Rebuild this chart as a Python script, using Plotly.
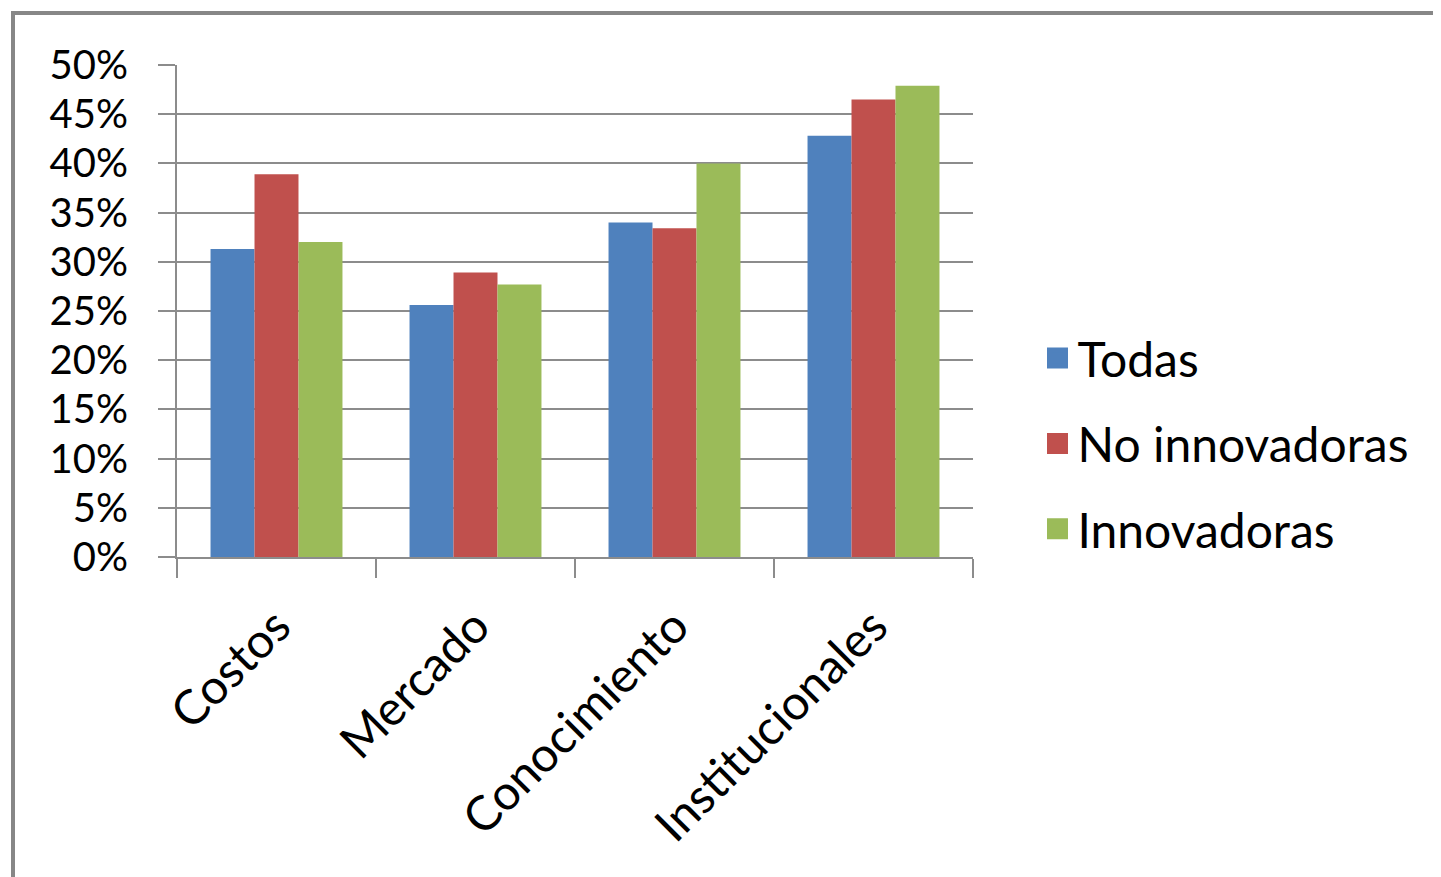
import plotly.graph_objects as go

categories = ["Costos", "Mercado", "Conocimiento", "Institucionales"]
series_names = ["Todas", "No innovadoras", "Innovadoras"]
todas = [0.313, 0.256, 0.340, 0.428]
no_innovadoras = [0.389, 0.289, 0.334, 0.465]
innovadoras = [0.320, 0.277, 0.400, 0.479]
colors = ["#4F81BD", "#C0504D", "#9BBB59"]
y_ticks = [0, 0.05, 0.10, 0.15, 0.20, 0.25, 0.30, 0.35, 0.40, 0.45, 0.50]

FONT = "Lato, 'Open Sans', sans-serif"

# page places the figure at an 8px offset
L, T = 169, 57
PW, PH = 796, 492

fig = go.Figure()
for name, vals, col in zip(series_names, [todas, no_innovadoras, innovadoras], colors):
    fig.add_trace(go.Bar(x=categories, y=vals, name=name, marker=dict(color=col, line=dict(width=0)),
                         showlegend=False))
# legend entries with larger squares
for i, (name, col) in enumerate(zip(series_names, colors)):
    fig.add_trace(go.Scatter(x=[None], y=[None], mode="markers", name=name, legendgroup=str(i),
                             marker=dict(symbol="square", size=16, color=col, line=dict(color=col, width=5))))

fig.update_layout(
    width=1441, height=877,
    margin=dict(l=L, r=1441 - L - PW, t=T, b=877 - T - PH),
    paper_bgcolor="white", plot_bgcolor="white",
    barmode="group", bargap=0.337, bargroupgap=0,
    font=dict(family=FONT, size=45, color="black"),
    legend=dict(x=1.081, y=0.23, xanchor="left", yanchor="middle", tracegroupgap=20,
                font=dict(size=48), itemwidth=30, bgcolor="rgba(0,0,0,0)"),
    xaxis=dict(showline=True, linecolor="#8C8C8C", linewidth=2, ticks="outside", tickson="boundaries",
               ticklen=19, tickwidth=2, tickcolor="#8C8C8C", tickangle=-45, showgrid=False,
               tickfont=dict(size=48), ticklabelstandoff=20),
    yaxis=dict(range=[0, 0.5], tickvals=y_ticks, tickformat=".0%", showline=True, linecolor="#8C8C8C",
               linewidth=2, ticks="outside", ticklen=17, tickwidth=2, tickcolor="#8C8C8C",
               showgrid=True, gridcolor="#8C8C8C", gridwidth=2, zeroline=False,
               tickfont=dict(size=40), ticklabelstandoff=22),
    shapes=[dict(type="rect", xref="paper", yref="paper",
                 x0=(5 - L) / PW, x1=(1500 - L) / PW,
                 y0=(T + PH - 950) / PH, y1=(T + PH - 5) / PH,
                 line=dict(color="#878787", width=4), fillcolor="rgba(0,0,0,0)", layer="below")],
)

fig.write_html("out.html")
